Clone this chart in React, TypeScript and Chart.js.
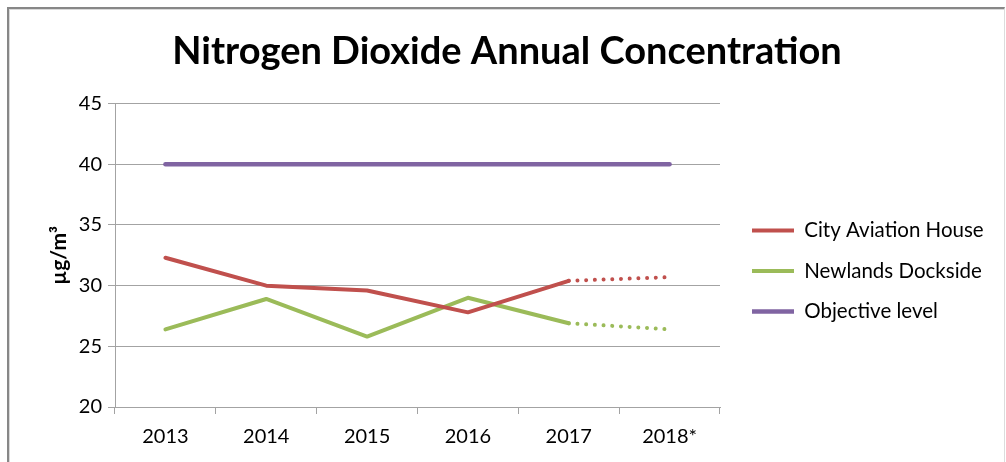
import React, { useEffect, useRef } from "react";
import { Chart, registerables } from "chart.js";

Chart.register(...registerables);

// ---- data ----
const years = ["2013", "2014", "2015", "2016", "2017", "2018*"];
const cityAviation = [32.3, 30.0, 29.6, 27.8, 30.4, 30.7];
const newlandsDockside = [26.4, 28.9, 25.8, 29.0, 26.9, 26.4];
const objectiveLevel = [40, 40, 40, 40, 40, 40];
const seriesNames = ["City Aviation House", "Newlands Dockside", "Objective level"];
const yMin = 20;
const yMax = 45;
const yStep = 5;
const projectionStartIndex = 4; // segments after 2017 are projected (dotted)

const titleText = "Nitrogen Dioxide Annual Concentration";
const yAxisTitle = "µg/m³";

const FONT = "Lato, 'Open Sans', 'Noto Sans', sans-serif";
const GRID = "#a3a3a3";

// nudges the legend and title boxes after Chart.js has laid them out
const boxShift = {
  id: "boxShift",
  afterLayout(chart: any) {
    const lg = chart.legend;
    if (lg) {
      lg.left += 12;
      lg.top += 40;
      lg.bottom += 40;
      lg.right = chart.width;
    }
    const tb = chart.titleBlock;
    if (tb) {
      tb.left += 27;
      tb.right += 27;
    }
  },
};

export default function App() {
  const canvasRef = useRef<HTMLCanvasElement | null>(null);

  useEffect(() => {
    if (!canvasRef.current) return;
    Chart.defaults.font.family = FONT;
    Chart.defaults.color = "#000";
    const projected = (ctx: any) =>
      ctx.p0DataIndex >= projectionStartIndex ? [0.01, 8.7] : undefined;

    const chart = new Chart(canvasRef.current, {
      type: "line",
      data: {
        labels: years,
        datasets: [
          {
            label: seriesNames[0],
            data: cityAviation,
            borderColor: "#C0504D",
            backgroundColor: "#C0504D",
            borderWidth: 4,
            borderCapStyle: "round",
            borderJoinStyle: "round",
            pointRadius: 0,
            segment: { borderDash: projected },
          },
          {
            label: seriesNames[1],
            data: newlandsDockside,
            borderColor: "#9BBB59",
            backgroundColor: "#9BBB59",
            borderWidth: 4,
            borderCapStyle: "round",
            borderJoinStyle: "round",
            pointRadius: 0,
            segment: { borderDash: projected },
          },
          {
            label: seriesNames[2],
            data: objectiveLevel,
            borderColor: "#8064A2",
            backgroundColor: "#8064A2",
            borderWidth: 4.5,
            borderCapStyle: "round",
            borderJoinStyle: "round",
            pointRadius: 0,
          },
        ],
      },
      options: {
        responsive: false,
        animation: false,
        devicePixelRatio: 1,
        layout: { padding: { left: 0, right: 46, top: 0, bottom: 0 } },
        plugins: {
          title: {
            display: true,
            text: titleText,
            color: "#000",
            font: { size: 38, weight: "bold", family: FONT },
            padding: { top: 29, bottom: 29 },
          },
          legend: {
            display: true,
            position: "right",
            align: "center",
            labels: {
              usePointStyle: true,
              pointStyle: "line",
              pointStyleWidth: 42,
              boxHeight: 4,
              padding: 20,
              color: "#000",
              font: { size: 20.5, family: FONT },
            },
          },
          tooltip: { enabled: false },
        },
        scales: {
          x: {
            offset: true,
            grid: {
              offset: true,
              drawOnChartArea: false,
              drawTicks: true,
              tickLength: 7,
              color: GRID,
            },
            border: { display: true, color: GRID },
            ticks: { color: "#000", padding: 11, font: { size: 20, family: FONT } },
            afterFit: (s: any) => {
              s.height = 55;
            },
          },
          y: {
            min: yMin,
            max: yMax,
            ticks: { stepSize: yStep, color: "#000", padding: 6, font: { size: 20, family: FONT } },
            grid: { color: GRID, tickLength: 7, drawTicks: true },
            border: { display: true, color: GRID },
            title: {
              display: true,
              text: yAxisTitle,
              color: "#000",
              font: { size: 21, weight: "bold", family: FONT },
              padding: { top: 47, bottom: 0 },
            },
            afterFit: (s: any) => {
              s.width = 115;
            },
          },
        },
      },
      plugins: [boxShift],
    } as any);

    return () => chart.destroy();
  }, []);

  return (
    <div style={{ position: "absolute", left: 0, top: 0, width: 1006, height: 462, background: "#fff", overflow: "hidden" }}>
      <canvas ref={canvasRef} width={1006} height={462} style={{ display: "block" }} />
      <div
        style={{
          position: "absolute",
          left: 7,
          top: 7,
          width: 995,
          height: 470,
          borderTop: "2px solid #878787",
          borderLeft: "2px solid #878787",
          borderRight: "1px solid #dcdcdc",
          boxShadow: "inset 1px 1px 0 #d9d9d9",
          pointerEvents: "none",
        }}
      />
    </div>
  );
}
